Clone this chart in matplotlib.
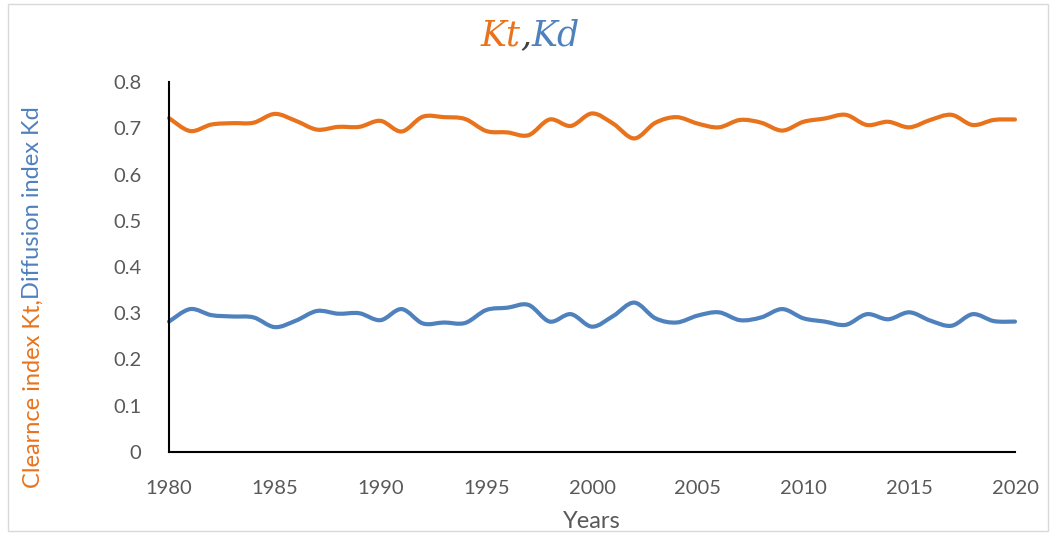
import matplotlib
matplotlib.use("Agg")
import matplotlib.pyplot as plt
from matplotlib.path import Path
from matplotlib.patches import PathPatch, Rectangle
import numpy as np

years = list(range(1980, 2021))
kt = [0.722, 0.694, 0.708, 0.711, 0.712, 0.731, 0.716, 0.697, 0.703, 0.703,
      0.716, 0.693, 0.725, 0.724, 0.720, 0.694, 0.691, 0.685, 0.719, 0.705,
      0.732, 0.710, 0.678, 0.712, 0.724, 0.710, 0.702, 0.718, 0.712, 0.695,
      0.714, 0.721, 0.729, 0.707, 0.714, 0.702, 0.718, 0.729, 0.707, 0.718,
      0.719]
kd = [0.282, 0.309, 0.296, 0.293, 0.291, 0.270, 0.284, 0.305, 0.299, 0.300,
      0.285, 0.309, 0.278, 0.280, 0.279, 0.307, 0.312, 0.318, 0.282, 0.298,
      0.271, 0.294, 0.323, 0.289, 0.280, 0.295, 0.302, 0.285, 0.291, 0.309,
      0.289, 0.282, 0.275, 0.298, 0.287, 0.302, 0.284, 0.273, 0.298, 0.283,
      0.282]
yticks = [0, 0.1, 0.2, 0.3, 0.4, 0.5, 0.6, 0.7, 0.8]
ytick_labels = ["0", "0.1", "0.2", "0.3", "0.4", "0.5", "0.6", "0.7", "0.8"]
xticks = [1980, 1985, 1990, 1995, 2000, 2005, 2010, 2015, 2020]

ORANGE = "#E8731C"
BLUE = "#4F81BD"
GRAY = "#595959"
FONT = "Lato"


def smooth_path(x, y):
    """Excel-style smoothed line: Catmull-Rom converted to cubic Beziers."""
    x = np.asarray(x, float)
    y = np.asarray(y, float)
    n = len(x)
    verts = [(x[0], y[0])]
    codes = [Path.MOVETO]
    for i in range(n - 1):
        p0 = (x[max(i - 1, 0)], y[max(i - 1, 0)])
        p1 = (x[i], y[i])
        p2 = (x[i + 1], y[i + 1])
        p3 = (x[min(i + 2, n - 1)], y[min(i + 2, n - 1)])
        c1 = (p1[0] + (p2[0] - p0[0]) / 6, p1[1] + (p2[1] - p0[1]) / 6)
        c2 = (p2[0] - (p3[0] - p1[0]) / 6, p2[1] - (p3[1] - p1[1]) / 6)
        verts += [c1, c2, p2]
        codes += [Path.CURVE4] * 3
    return Path(verts, codes)


fig = plt.figure(figsize=(10.56, 5.35), dpi=100)
ax = fig.add_axes([169 / 1056, 1 - 452 / 535, (1015 - 169) / 1056, (452 - 82) / 535])

for vals, col in ((kt, ORANGE), (kd, BLUE)):
    ax.add_patch(PathPatch(smooth_path(years, vals), facecolor="none",
                           edgecolor=col, lw=3.0, capstyle="round",
                           joinstyle="round", clip_on=False))

ax.set_xlim(1980, 2020)
ax.set_ylim(0, 0.8)
ax.set_xticks(xticks)
ax.set_xticklabels([str(v) for v in xticks])
ax.set_yticks(yticks)
ax.set_yticklabels(ytick_labels)
ax.tick_params(length=0, labelsize=14.5, labelcolor=GRAY)
ax.tick_params(axis="y", pad=20)
ax.tick_params(axis="x", pad=20)
for lab in ax.get_xticklabels() + ax.get_yticklabels():
    lab.set_fontfamily(FONT)
for s in ("top", "right"):
    ax.spines[s].set_visible(False)
for s in ("left", "bottom"):
    ax.spines[s].set_linewidth(1.5)
    ax.spines[s].set_color("black")

ax.set_xlabel("Years", fontsize=17, color=GRAY, family=FONT, labelpad=10)

# outer chart border
fig.patches.append(Rectangle((8 / 1056, 4 / 535), 1 - 16 / 1056, 1 - 8 / 535,
                             transform=fig.transFigure, fill=False,
                             edgecolor="#D9D9D9", lw=1.0))

fig.canvas.draw()
r = fig.canvas.get_renderer()

# two-colored rotated y label
t1 = fig.text(33 / 1056, 1 - 488 / 535, "Clearnce index Kt,", rotation=90,
              color=ORANGE, fontsize=17, family=FONT, ha="center", va="bottom")
bb = t1.get_window_extent(r)
t2 = fig.text(33 / 1056, bb.y1 / fig.bbox.height, "Diffusion index Kd", rotation=90,
              color=BLUE, fontsize=17, family=FONT, ha="center", va="bottom")

# multi-colored title
parts = [("Kt", ORANGE), (",", "#404040"), ("Kd", BLUE)]
texts = []
for s, c in parts:
    texts.append(fig.text(0, 1 - 35 / 535, s, color=c, fontsize=25,
                          family="DejaVu Serif", style="italic", va="center"))
widths = [t.get_window_extent(r).width for t in texts]
x = 530 - sum(widths) / 2
for t, w in zip(texts, widths):
    t.set_x(x / fig.bbox.width)
    x += w

fig.savefig("out.png", dpi=100)
